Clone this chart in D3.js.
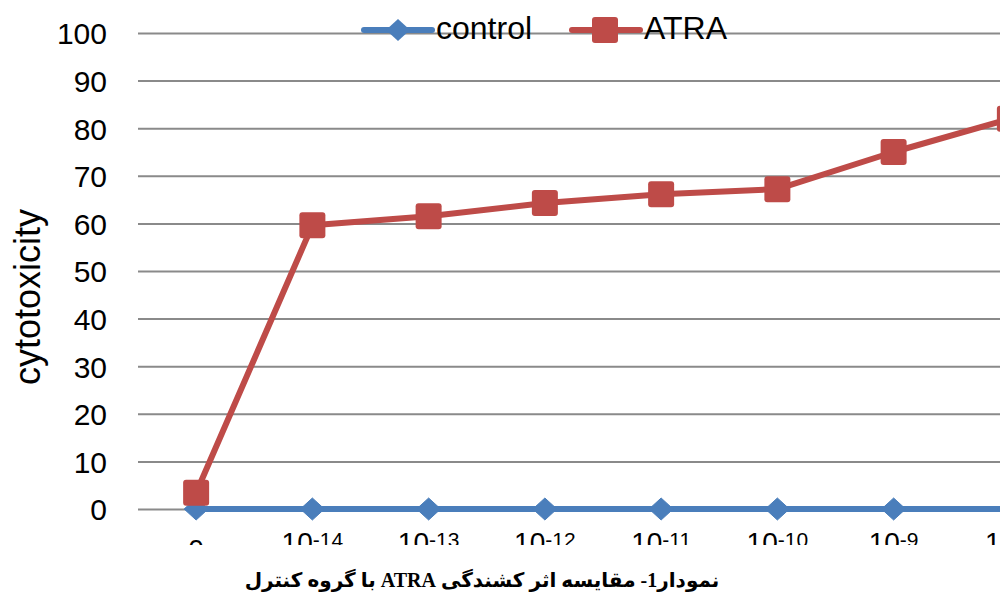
<!DOCTYPE html>
<html>
<head>
<meta charset="utf-8">
<script src="https://cdn.jsdelivr.net/npm/d3@7"></script>
<style>
  html, body { margin: 0; padding: 0; background: #fff; }
  svg { display: block; }
</style>
</head>
<body>
<svg id="chart" width="1000" height="595"></svg>
<script>
// ---- data ----
const categories = ["0", "10-14", "10-13", "10-12", "10-11", "10-10", "10-9", "10-8"];
const controlValues = [0, 0, 0, 0, 0, 0, 0, 0];
const atraValues = [3.4, 59.6, 61.5, 64.3, 66.1, 67.2, 75, 82];
const yTicks = [0, 10, 20, 30, 40, 50, 60, 70, 80, 90, 100];
const seriesNames = ["control", "ATRA"];
const yTitle = "cytotoxicity";
const captionBold = "نمودار1-";
const captionRest = " مقایسه اثر کشندگی ATRA با گروه کنترل";

// ---- styles ----
const blue = "#4a7ebb", red = "#be4b48", grid = "#8a8a8a";
const font = "'Liberation Sans', Arial, sans-serif";
const svg = d3.select("#chart");

const x = d3.scalePoint().domain(categories).range([138, 1068]).padding(0.5);
const y = d3.scaleLinear().domain([0, 100]).range([509, 33]);

// clip for chart area (labels are cut off at bottom)
svg.append("defs").append("clipPath").attr("id", "clipChart")
  .append("rect").attr("x", 0).attr("y", 0).attr("width", 1000).attr("height", 545);

const g = svg.append("g").attr("clip-path", "url(#clipChart)");

// gridlines via axis
const yAxis = d3.axisLeft(y).tickValues(yTicks).tickSize(-(1068 - 138)).tickPadding(31);
const ya = g.append("g").attr("transform", "translate(138,0)").call(yAxis);
ya.select(".domain").remove();
ya.selectAll(".tick line").attr("stroke", grid).attr("stroke-width", 2);
ya.selectAll(".tick text").attr("fill", "#000")
  .style("font-family", font).style("font-size", "30px")
  .attr("dy", "0.36em");

// y title
g.append("text")
  .attr("transform", "translate(40,297) rotate(-90)")
  .attr("text-anchor", "middle")
  .style("font-family", font).style("font-size", "36px")
  .text(yTitle);

// x labels
const xl = g.append("g");
categories.forEach(c => {
  const t = xl.append("text")
    .attr("x", x(c)).attr("y", 552)
    .attr("text-anchor", "middle")
    .style("font-family", font).style("font-size", "28px");
  if (c.startsWith("10") && c.length > 2) {
    t.append("tspan").text("10");
    t.append("tspan").attr("dy", -5).style("font-size", "21px").text(c.slice(2));
  } else {
    t.attr("y", 559).text(c);
  }
});

// series
const line = d3.line().x((d, i) => x(categories[i])).y(d => y(d));
g.append("path").datum(controlValues).attr("d", line)
  .attr("fill", "none").attr("stroke", blue).attr("stroke-width", 6).attr("stroke-linejoin", "round");
const diamond = "M0,-11 L12,0 L0,11 L-12,0 Z";
g.selectAll(".dm").data(controlValues).enter().append("path")
  .attr("d", diamond).attr("fill", blue)
  .attr("stroke", blue).attr("stroke-width", 1).attr("stroke-linejoin", "round")
  .attr("transform", (d, i) => `translate(${x(categories[i])},${y(d)})`);

g.append("path").datum(atraValues).attr("d", line)
  .attr("fill", "none").attr("stroke", red).attr("stroke-width", 6).attr("stroke-linejoin", "round");
g.selectAll(".sq").data(atraValues).enter().append("rect")
  .attr("x", (d, i) => x(categories[i]) - 13).attr("y", d => y(d) - 13)
  .attr("width", 26).attr("height", 26).attr("rx", 3)
  .attr("fill", red);

// legend
const lg = svg.append("g");
const ly = 30;
// control
lg.append("line").attr("x1", 364).attr("x2", 432).attr("y1", ly).attr("y2", ly)
  .attr("stroke", blue).attr("stroke-width", 6).attr("stroke-linecap", "round");
lg.append("path").attr("d", diamond).attr("fill", blue).attr("transform", `translate(398,${ly})`);
lg.append("text").attr("x", 436).attr("y", 39)
  .style("font-family", font).style("font-size", "32px")
  .text(seriesNames[0]);
// ATRA
lg.append("line").attr("x1", 572).attr("x2", 640).attr("y1", ly).attr("y2", ly)
  .attr("stroke", red).attr("stroke-width", 6).attr("stroke-linecap", "round");
lg.append("rect").attr("x", 605 - 13).attr("y", ly - 13).attr("width", 26).attr("height", 26).attr("rx", 3).attr("fill", red);
lg.append("text").attr("x", 644).attr("y", 39)
  .style("font-family", font).style("font-size", "32px")
  .text(seriesNames[1]);

// caption
const cap = svg.append("text")
  .attr("x", 482).attr("y", 587)
  .attr("text-anchor", "middle")
  .attr("direction", "rtl")
  .style("font-family", "'Liberation Serif', 'DejaVu Sans', serif")
  .style("font-size", "20px").style("font-weight", "bold");
cap.append("tspan").text(captionBold);
cap.append("tspan").style("font-weight", "bold").text(captionRest);
</script>
</body>
</html>
